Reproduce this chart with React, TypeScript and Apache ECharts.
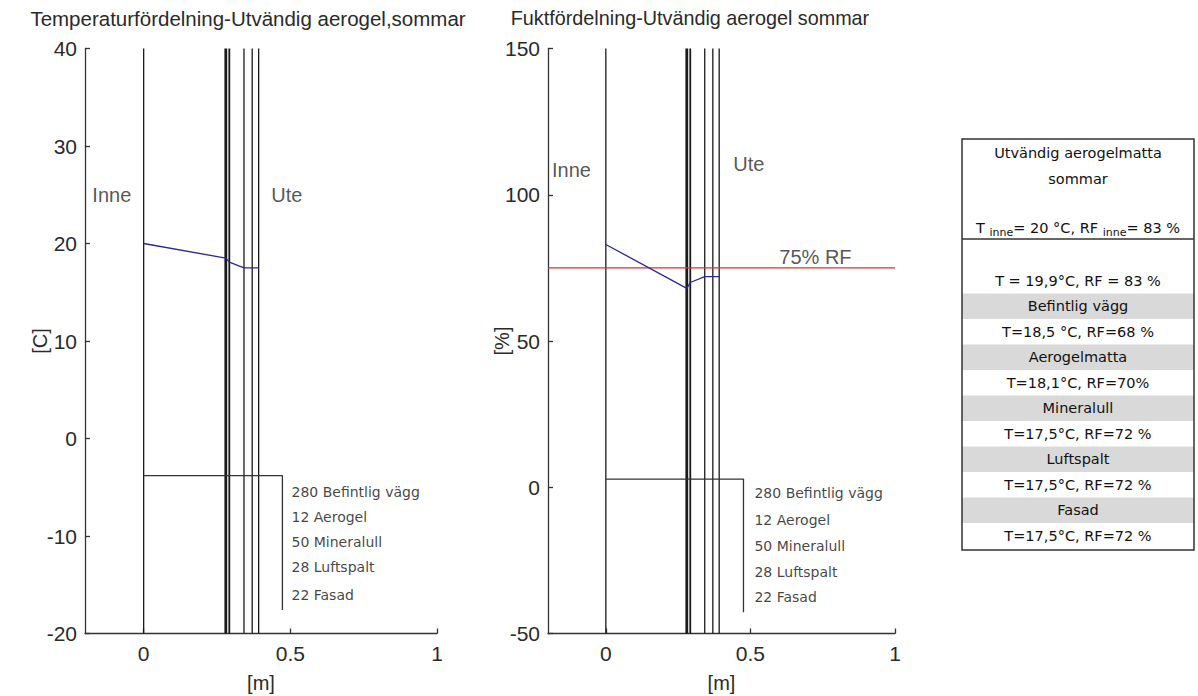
import React, { useEffect, useRef } from "react";
import * as echarts from "echarts";

// ---- data ----
const layerBoundaries = [0, 0.28, 0.292, 0.342, 0.37, 0.392];
const temperatureValues = [20, 18.5, 18.1, 17.5, 17.5, 17.5];
const humidityValues = [83, 68, 70, 72, 72, 72];
const rfLimit = 75;
const xTicks = [0, 0.5, 1];
const xRange = [-0.2, 1];
const tempRange = [-20, 40, 10];
const rhRange = [-50, 150, 50];
const layerNames = ["280 Befintlig vägg", "12 Aerogel", "50 Mineralull", "28 Luftspalt", "22 Fasad"];
const tempLabelX = 0.504;
const tempLabelY = [-5.5, -8.1, -10.6, -13.2, -16.0];
const rhLabelX = 0.514;
const rhLabelY = [-2, -11.2, -20.1, -29, -37.6];
const tempBracket = [[0, -3.8], [0.473, -3.8], [0.473, -17.6]];
const rhBracket = [[0, 2.8], [0.476, 2.8], [0.476, -42.7]];
const tempSideLabels = [
  { name: "Inne", value: [-0.175, 25] },
  { name: "Ute", value: [0.435, 25] },
];
const rhSideLabels = [
  { name: "Inne", value: [-0.186, 108.3] },
  { name: "Ute", value: [0.441, 110.4] },
  { name: "75% RF", value: [0.6, 78.6] },
];
const titles = ["Temperaturfördelning-Utvändig aerogel,sommar", "Fuktfördelning-Utvändig aerogel sommar"];
const tableHeader = ["Utvändig aerogelmatta", "sommar"];
const tableSubHeader = "{n|T }{s|inne}{n|= 20 °C, RF }{s|inne}{n|= 83 %}";
const tableRows = [
  "T = 19,9°C, RF = 83 %",
  "Befintlig vägg",
  "T=18,5 °C, RF=68 %",
  "Aerogelmatta",
  "T=18,1°C, RF=70%",
  "Mineralull",
  "T=17,5°C, RF=72 %",
  "Luftspalt",
  "T=17,5°C, RF=72 %",
  "Fasad",
  "T=17,5°C, RF=72 %",
];

const MFONT = "'Liberation Sans', Arial, sans-serif";
const TFONT = "'DejaVu Sans', 'Open Sans', sans-serif";
const INK = "#2a2a2a";

export default function App() {
  const ref = useRef<HTMLDivElement>(null);
  useEffect(() => {
    if (!ref.current) return;
    const chart = echarts.init(ref.current, null, { renderer: "svg" });

    const mkX = (gridIndex: number) => ({
      type: "value",
      gridIndex,
      min: xRange[0],
      max: xRange[1],
      name: "[m]",
      nameLocation: "middle",
      nameGap: 39,
      nameMoveOverlap: false,
      nameTextStyle: { fontSize: 20, fontFamily: MFONT, color: INK },
      splitLine: { show: false },
      axisLine: { show: true, onZero: false, lineStyle: { color: "#333", width: 1.3 } },
      axisTick: { show: true, inside: true, length: 5, customValues: xTicks, lineStyle: { color: "#333", width: 1.3 } },
      axisLabel: { customValues: xTicks, fontSize: 21, fontFamily: MFONT, color: INK, margin: 9 },
    });
    const mkY = (gridIndex: number, r: number[], name: string, gap: number) => ({
      type: "value",
      gridIndex,
      min: r[0],
      max: r[1],
      interval: r[2],
      name,
      nameLocation: "middle",
      nameGap: gap,
      nameMoveOverlap: false,
      nameTextStyle: { fontSize: 20, fontFamily: MFONT, color: INK },
      splitLine: { show: false },
      axisLine: { show: true, onZero: false, lineStyle: { color: "#333", width: 1.3 } },
      axisTick: { show: true, inside: true, length: 5, lineStyle: { color: "#333", width: 1.3 } },
      axisLabel: { fontSize: 21, fontFamily: MFONT, color: INK, margin: 8 },
    });

    const series: any[] = [];
    const addPlot = (idx: number, yMin: number, yMax: number, values: number[], bracket: number[][], labX: number, labY: number[], side: any[]) => {
      layerBoundaries.forEach((x, i) => {
        series.push({
          type: "line",
          xAxisIndex: idx,
          yAxisIndex: idx,
          data: [[x, yMin], [x, yMax]],
          symbol: "none",
          silent: true,
          lineStyle: { color: "#1a1a1a", width: i === 1 ? 2.8 : i === 2 ? 1.8 : 1.3 },
        });
      });
      series.push({
        type: "line",
        xAxisIndex: idx,
        yAxisIndex: idx,
        data: bracket,
        symbol: "none",
        silent: true,
        lineStyle: { color: "#333", width: 1.3 },
      });
      series.push({
        type: "line",
        xAxisIndex: idx,
        yAxisIndex: idx,
        data: layerBoundaries.map((x, i) => [x, values[i]]),
        symbol: "none",
        silent: true,
        z: 5,
        lineStyle: { color: "#2a2a90", width: 1.3 },
      });
      series.push({
        type: "scatter",
        xAxisIndex: idx,
        yAxisIndex: idx,
        symbolSize: 0,
        silent: true,
        data: layerNames.map((n, i) => ({ name: n, value: [labX, labY[i]] })),
        label: {
          show: true,
          position: "right",
          distance: 0,
          formatter: (p: any) => p.name,
          fontSize: 14,
          fontFamily: TFONT,
          color: "#111",
        },
      });
      series.push({
        type: "scatter",
        xAxisIndex: idx,
        yAxisIndex: idx,
        symbolSize: 0,
        silent: true,
        data: side,
        label: {
          show: true,
          position: "right",
          distance: 0,
          formatter: (p: any) => p.name,
          fontSize: 20,
          fontFamily: MFONT,
          color: INK,
        },
      });
    };
    addPlot(0, tempRange[0], tempRange[1], temperatureValues, tempBracket, tempLabelX, tempLabelY, tempSideLabels);
    addPlot(1, rhRange[0], rhRange[1], humidityValues, rhBracket, rhLabelX, rhLabelY, rhSideLabels);
    series.push({
      type: "line",
      xAxisIndex: 1,
      yAxisIndex: 1,
      data: [[xRange[0], rfLimit], [xRange[1], rfLimit]],
      symbol: "none",
      silent: true,
      z: 4,
      lineStyle: { color: "#d93030", width: 1.3 },
    });

    // table graphics
    const tX = 962, tY = 139, tW = 232, tH = 411;
    const rowTop = 268, rowH = 25.5;
    const cx = tX + tW / 2;
    const graphics: any[] = [];
    titles.forEach((t, i) => {
      graphics.push({
        type: "text",
        x: i === 0 ? 248 : 690,
        y: 18,
        style: { text: t, fontSize: i === 0 ? 20.5 : 19.8, fontFamily: MFONT, fill: INK, align: "center", verticalAlign: "middle" },
      });
    });
    tableRows.forEach((t, i) => {
      if (i % 2 === 1) {
        graphics.push({
          type: "rect",
          shape: { x: tX, y: rowTop + i * rowH, width: tW, height: rowH },
          style: { fill: "#d9d9d9" },
        });
      }
      graphics.push({
        type: "text",
        x: cx,
        y: rowTop + i * rowH + rowH / 2,
        style: { text: t, fontSize: 14.5, fontFamily: TFONT, fill: "#111", align: "center", verticalAlign: "middle" },
      });
    });
    tableHeader.forEach((t, i) => {
      graphics.push({
        type: "text",
        x: cx,
        y: 153 + i * 26,
        style: { text: t, fontSize: 14.5, fontFamily: TFONT, fill: "#111", align: "center", verticalAlign: "middle" },
      });
    });
    graphics.push({
      type: "text",
      x: cx,
      y: 228,
      style: {
        text: tableSubHeader,
        align: "center",
        verticalAlign: "middle",
        rich: {
          n: { fontSize: 14.5, fontFamily: TFONT, fill: "#111" },
          s: { fontSize: 11, fontFamily: TFONT, fill: "#111", padding: [8, 0, 0, 0] },
        },
      },
    });
    graphics.push({
      type: "line",
      shape: { x1: tX, y1: 239, x2: tX + tW, y2: 239 },
      style: { stroke: "#333", lineWidth: 1.5 },
    });
    graphics.push({
      type: "rect",
      shape: { x: tX, y: tY, width: tW, height: tH },
      style: { fill: "none", stroke: "#333", lineWidth: 1.5 },
    });

    chart.setOption({
      animation: false,
      backgroundColor: "#ffffff",
      grid: [
        { left: 85, top: 48.5, width: 352, height: 585, outerBoundsMode: "none", containLabel: false },
        { left: 548, top: 48.5, width: 347, height: 585, outerBoundsMode: "none", containLabel: false },
      ],
      xAxis: [mkX(0), mkX(1)],
      yAxis: [mkY(0, tempRange, "[C]", 35), mkY(1, rhRange, "[%]", 36)],
      series,
      graphic: graphics,
    });
    return () => chart.dispose();
  }, []);
  return <div ref={ref} style={{ position: "fixed", left: 0, top: 0, width: 1198, height: 696 }} />;
}
